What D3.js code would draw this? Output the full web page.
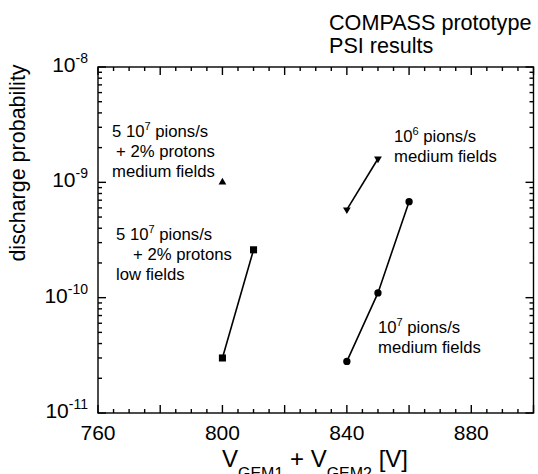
<!DOCTYPE html>
<html>
<head>
<meta charset="utf-8">
<script src="https://cdn.jsdelivr.net/npm/d3@7"></script>
<style>
  body { margin: 0; background: #fff; }
  text { font-family: "Liberation Sans", Arial, Helvetica, sans-serif; fill: #000; }
</style>
</head>
<body>
<div id="graf"></div>
<script>
// Datos
// 5 10^7 pions/s + 2% protons, low fields (cuadrados)
var vLow = [800, 810];
var pLow = [3.0e-11, 2.6e-10];
// 5 10^7 pions/s + 2% protons, medium fields (triangulo)
var vMedProt = [800];
var pMedProt = [1.0e-9];
// 10^6 pions/s, medium fields (triangulos invertidos)
var v1e6 = [840, 850];
var p1e6 = [5.8e-10, 1.6e-9];
// 10^7 pions/s, medium fields (circulos)
var v1e7 = [840, 850, 860];
var p1e7 = [2.8e-11, 1.1e-10, 6.8e-10];

// Ejes
var xDomain = [760, 900];
var xLabels = [760, 800, 840, 880];
var yDomain = [1e-11, 1e-8];
var yLabels = [1e-8, 1e-9, 1e-10, 1e-11];
var yExponents = ["-8", "-9", "-10", "-11"];

var ancho_total = 538, alto_total = 474;
var margins = { top: 67, left: 98, right: 4.5, bottom: 61 };
var ancho = ancho_total - margins.left - margins.right;
var alto = alto_total - margins.top - margins.bottom;

var svg = d3.select("#graf").append("svg")
  .attr("width", ancho_total)
  .attr("height", alto_total);

var g = svg.append("g")
  .attr("transform", `translate(${margins.left}, ${margins.top})`);

// Escaladores
var x = d3.scaleLinear().domain(xDomain).range([0, ancho]);
var y = d3.scaleLog().domain(yDomain).range([alto, 0]);

var xMinor = d3.range(xDomain[0], xDomain[1] + 1, 5);
var yMinor = y.ticks();

// ticks hacia adentro en los cuatro lados
var marcas = g.append("g")
  .attr("stroke", "#000")
  .attr("stroke-width", 1.4);

function largoX(d) { return d % 20 === 0 ? 8 : 4; }
function largoY(d) { return yLabels.some((v) => Math.abs(v - d) / v < 1e-6) ? 8 : 4; }

marcas.selectAll(".tb").data(xMinor).enter().append("line")
  .attr("class", "tb")
  .attr("x1", (d) => x(d)).attr("x2", (d) => x(d))
  .attr("y1", alto).attr("y2", (d) => alto - largoX(d));
marcas.selectAll(".tt").data(xMinor).enter().append("line")
  .attr("class", "tt")
  .attr("x1", (d) => x(d)).attr("x2", (d) => x(d))
  .attr("y1", 0).attr("y2", (d) => largoX(d));
marcas.selectAll(".tl").data(yMinor).enter().append("line")
  .attr("class", "tl")
  .attr("y1", (d) => y(d)).attr("y2", (d) => y(d))
  .attr("x1", 0).attr("x2", (d) => largoY(d));
marcas.selectAll(".tr").data(yMinor).enter().append("line")
  .attr("class", "tr")
  .attr("y1", (d) => y(d)).attr("y2", (d) => y(d))
  .attr("x1", ancho).attr("x2", (d) => ancho - largoY(d));

// etiquetas del eje x
g.selectAll(".xlab").data(xLabels).enter().append("text")
  .attr("class", "xlab")
  .attr("x", (d) => x(d))
  .attr("y", alto + 27)
  .attr("text-anchor", "middle")
  .attr("font-size", 21)
  .text((d) => d);

// etiquetas del eje y (10 con exponente)
var yTxt = g.selectAll(".ylab").data(yLabels).enter().append("text")
  .attr("class", "ylab")
  .attr("x", -10)
  .attr("y", (d) => y(d) + 5)
  .attr("text-anchor", "end")
  .attr("font-size", 21);
yTxt.append("tspan").text("10");
yTxt.append("tspan").attr("font-size", 14).attr("dy", -9).text((d, i) => yExponents[i]);

// marco
g.append("rect")
  .attr("width", ancho)
  .attr("height", alto)
  .attr("fill", "none")
  .attr("stroke", "#000")
  .attr("stroke-width", 1.4);

// Generador de lineas
var lineaGen = d3.line().x((d) => x(d[0])).y((d) => y(d[1]));

function serie(vs, ps, tipo, tam, rot) {
  var pts = d3.zip(vs, ps);
  if (pts.length > 1) {
    g.append("path")
      .attr("fill", "none")
      .attr("stroke", "#000")
      .attr("stroke-width", 1.6)
      .attr("d", lineaGen(pts));
  }
  g.selectAll(null).data(pts).enter().append("path")
    .attr("d", d3.symbol().type(tipo).size(tam))
    .attr("transform", (d) => `translate(${x(d[0])}, ${y(d[1])}) rotate(${rot})`)
    .attr("fill", "#000");
}

serie(vLow, pLow, d3.symbolSquare, 50, 0);
serie(vMedProt, pMedProt, d3.symbolTriangle, 26, 0);
serie(v1e6, p1e6, d3.symbolTriangle, 26, 180);
serie(v1e7, p1e7, d3.symbolCircle, 42, 0);

// Anotaciones
function nota(x0, y0, lineas) {
  lineas.forEach((l, i) => {
    var t = svg.append("text")
      .attr("x", x0 + (l.indent || 0))
      .attr("y", y0 + i * 20)
      .attr("font-size", 16.7);
    t.append("tspan").text(l.a);
    if (l.sup) {
      t.append("tspan").attr("font-size", 11).attr("dy", -7).text(l.sup);
      t.append("tspan").attr("dy", 7).text(l.b);
    }
  });
}

nota(112, 137, [
  { a: "5 10", sup: "7", b: " pions/s" },
  { a: "+ 2% protons", indent: 4 },
  { a: "medium fields" },
]);
nota(116, 240, [
  { a: "5 10", sup: "7", b: " pions/s" },
  { a: "+ 2% protons", indent: 17 },
  { a: "low fields" },
]);
nota(394, 142, [
  { a: "10", sup: "6", b: " pions/s" },
  { a: "medium fields" },
]);
nota(378, 333, [
  { a: "10", sup: "7", b: " pions/s" },
  { a: "medium fields" },
]);

// Titulo
svg.append("text").attr("x", 329).attr("y", 30).attr("font-size", 21.6).text("COMPASS prototype");
svg.append("text").attr("x", 329).attr("y", 53).attr("font-size", 21.6).text("PSI results");

// Titulos de ejes
svg.append("text")
  .attr("transform", `translate(25, ${margins.top + 96}) rotate(-90)`)
  .attr("text-anchor", "middle")
  .attr("font-size", 21.5)
  .text("discharge probability");

var xt = svg.append("text")
  .attr("x", 315)
  .attr("y", 467)
  .attr("text-anchor", "middle")
  .attr("font-size", 24);
xt.append("tspan").text("V");
xt.append("tspan").attr("font-size", 16).attr("dy", 12).text("GEM1");
xt.append("tspan").attr("dy", -12).text(" + V");
xt.append("tspan").attr("font-size", 16).attr("dy", 12).text("GEM2");
xt.append("tspan").attr("dy", -12).text(" [V]");
</script>
</body>
</html>
